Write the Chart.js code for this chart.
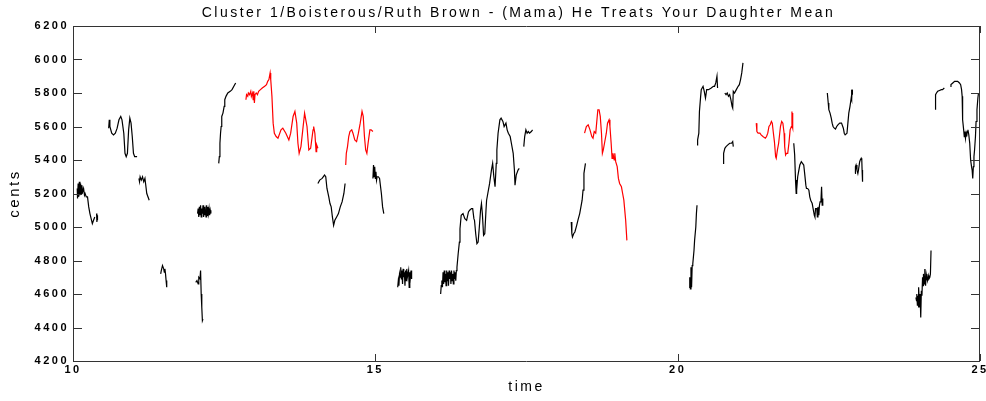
<!DOCTYPE html>
<html lang="en">
<head>
    <meta charset="UTF-8">
    <title>Cluster 1/Boisterous/Ruth Brown - (Mama) He Treats Your Daughter Mean</title>
    <script src="https://cdn.jsdelivr.net/npm/chart.js"></script>
    <style>
        html, body { margin: 0; padding: 0; background: #fff; }
        #wrap { width: 986px; height: 401px; }
    </style>
</head>
<body>
    <div id="wrap"><canvas id="pitch" width="986" height="401"></canvas></div>

    <script>
        const chartTitle = 'Cluster 1/Boisterous/Ruth Brown - (Mama) He Treats Your Daughter Mean';
        const xTicks = [10, 15, 20, 25];
        const yTicks = [4200, 4400, 4600, 4800, 5000, 5200, 5400, 5600, 5800, 6000, 6200];

        // pitch contour pieces, [time (s), cents]
        const segA = [[10.07,5230],[10.075,5170],[10.085,5260],[10.095,5180],[10.105,5270],[10.115,5190],[10.125,5260],[10.135,5200],[10.145,5250],[10.16,5210],[10.175,5230],[10.19,5190],[10.20,5200],[10.22,5180],[10.24,5180],[10.26,5120],[10.28,5080],[10.30,5050],[10.32,5020],[10.34,5040],[10.36,5060]];
        const segA2 = [[10.39,5080],[10.395,5030],[10.40,5070],[10.405,5040]];
        const segB = [[10.59,5590],[10.60,5640],[10.61,5600],[10.64,5560],[10.67,5550],[10.70,5560],[10.73,5590],[10.76,5640],[10.79,5660],[10.81,5640],[10.84,5560],[10.86,5440],[10.88,5420],[10.90,5440],[10.92,5580],[10.94,5650],[10.96,5620],[10.98,5540],[11.00,5440],[11.02,5420],[11.05,5420],[11.06,5420]];
        const segC = [[11.09,5290],[11.10,5270],[11.11,5300],[11.13,5280],[11.15,5300],[11.17,5270],[11.19,5290],[11.20,5260],[11.22,5200],[11.25,5170],[11.26,5160]];
        const segD = [[11.45,4720],[11.46,4740],[11.48,4770],[11.50,4750],[11.51,4730],[11.52,4750],[11.53,4720],[11.54,4680],[11.55,4640]];
        const segE = [[12.03,4670],[12.05,4680],[12.07,4660],[12.08,4700],[12.10,4690],[12.11,4740],[12.12,4600],[12.13,4520],[12.14,4440],[12.15,4450]];
        const segF = [[12.06,5080],[12.07,5110],[12.08,5060],[12.09,5120],[12.10,5070],[12.11,5130],[12.12,5060],[12.13,5110],[12.14,5080],[12.15,5130],[12.16,5060],[12.17,5120],[12.18,5070],[12.19,5100],[12.20,5060],[12.21,5130],[12.22,5070],[12.23,5120],[12.24,5080],[12.25,5110],[12.26,5070],[12.27,5100],[12.28,5080]];
        const segG = [[12.41,5380],[12.42,5420],[12.43,5500],[12.44,5560],[12.45,5600],[12.46,5660],[12.48,5680],[12.50,5720],[12.51,5760],[12.53,5780],[12.56,5800],[12.60,5810],[12.63,5820],[12.66,5840],[12.69,5860]];
        const segH = [[12.86,5760],[12.87,5790],[12.89,5780],[12.90,5800],[12.92,5790],[12.94,5810],[12.95,5780],[12.97,5800],[12.98,5760],[12.99,5810],[13.00,5740],[13.01,5790],[13.03,5800],[13.05,5790],[13.07,5810],[13.10,5820],[13.13,5830],[13.17,5840],[13.20,5850],[13.22,5870],[13.24,5880],[13.26,5920],[13.27,5880],[13.29,5780],[13.31,5620],[13.33,5560],[13.36,5540],[13.39,5530],[13.44,5580],[13.47,5590],[13.52,5560],[13.57,5520],[13.60,5560],[13.64,5660],[13.67,5690],[13.70,5620],[13.72,5500],[13.74,5440],[13.77,5480],[13.80,5580],[13.83,5680],[13.87,5600],[13.90,5460],[13.93,5470],[13.97,5580],[13.98,5600],[14.00,5560],[14.02,5450],[14.03,5490],[14.05,5470]];
        const segI = [[14.05,5260],[14.08,5280],[14.12,5290],[14.16,5310],[14.18,5300],[14.20,5230],[14.23,5180],[14.25,5140],[14.27,5120],[14.29,5060],[14.31,5010],[14.33,5040],[14.36,5060],[14.39,5080],[14.42,5120],[14.45,5150],[14.48,5200],[14.50,5260]];
        const segJ = [[14.51,5370],[14.52,5440],[14.54,5480],[14.56,5540],[14.58,5570],[14.61,5580],[14.63,5560],[14.66,5520],[14.69,5510],[14.72,5560],[14.75,5620],[14.78,5690],[14.80,5660],[14.82,5540],[14.84,5460],[14.86,5440],[14.88,5500],[14.91,5580],[14.93,5580],[14.96,5570]];
        const segK = [[14.96,5290],[14.97,5370],[14.98,5300],[14.99,5360],[15.00,5290],[15.01,5330],[15.02,5280],[15.03,5300],[15.05,5300],[15.07,5290],[15.08,5260],[15.10,5200],[15.12,5120],[15.14,5080]];
        const segL = [[15.37,4640],[15.38,4680],[15.39,4650],[15.40,4720],[15.41,4700],[15.42,4760],[15.43,4690],[15.44,4740],[15.45,4660],[15.46,4750],[15.47,4700],[15.48,4730],[15.49,4650],[15.50,4740],[15.51,4680],[15.52,4750],[15.53,4700],[15.55,4740],[15.56,4640],[15.57,4730],[15.58,4700],[15.59,4740],[15.60,4690]];
        const segM = [[16.08,4600],[16.09,4650],[16.10,4680],[16.11,4640],[16.12,4730],[16.13,4660],[16.14,4740],[16.15,4670],[16.16,4720],[16.17,4650],[16.18,4740],[16.19,4680],[16.20,4730],[16.21,4650],[16.22,4740],[16.23,4690],[16.24,4730],[16.25,4660],[16.26,4740],[16.27,4680],[16.28,4720],[16.29,4660],[16.30,4740],[16.31,4690],[16.32,4730],[16.33,4680],[16.34,4740],[16.35,4760],[16.37,4840],[16.39,4910],[16.40,4990],[16.42,5070],[16.45,5080],[16.48,5050],[16.51,5040],[16.54,5090],[16.56,5100],[16.59,5110],[16.61,5110],[16.63,5050],[16.64,5040],[16.66,4960],[16.68,4900],[16.70,4910],[16.72,5000],[16.74,5100],[16.755,5140],[16.77,5080],[16.79,4950],[16.81,4960],[16.83,5100],[16.84,5160],[16.86,5200],[16.89,5260],[16.92,5340],[16.94,5380],[16.96,5300],[16.98,5240],[17.00,5380],[17.01,5460],[17.03,5560],[17.06,5640],[17.08,5650],[17.11,5630],[17.13,5600],[17.16,5620],[17.18,5580],[17.20,5560],[17.23,5540],[17.25,5500],[17.28,5440],[17.30,5340],[17.31,5250],[17.33,5310],[17.36,5340],[17.38,5350]];
        const segN = [[17.455,5480],[17.47,5540],[17.49,5580],[17.51,5560],[17.53,5570],[17.55,5560],[17.58,5570],[17.60,5580]];
        const segO = [[18.24,5030],[18.25,4960],[18.26,4940],[18.28,4960],[18.30,4970],[18.33,5010],[18.35,5040],[18.38,5080],[18.40,5120],[18.42,5160],[18.435,5220],[18.45,5320],[18.475,5380]];
        const segP = [[18.46,5560],[18.49,5600],[18.52,5610],[18.55,5580],[18.58,5540],[18.60,5530],[18.62,5570],[18.645,5560],[18.66,5620],[18.68,5700],[18.70,5700],[18.72,5660],[18.74,5560],[18.755,5440],[18.77,5460],[18.79,5500],[18.82,5560],[18.84,5620],[18.865,5640],[18.88,5600],[18.90,5500],[18.915,5410],[18.93,5440],[18.95,5400],[18.96,5440],[18.975,5390],[19.00,5360],[19.02,5290],[19.04,5260],[19.07,5240],[19.09,5200],[19.11,5160],[19.12,5120],[19.14,5040],[19.16,4920]];
        const segQ = [[20.19,4640],[20.20,4700],[20.21,4630],[20.22,4760],[20.23,4640],[20.24,4770],[20.25,4780],[20.27,4860],[20.28,4920],[20.30,5000],[20.31,5080],[20.32,5130]];
        const segR = [[20.32,5490],[20.33,5520],[20.35,5560],[20.36,5690],[20.38,5780],[20.39,5820],[20.42,5840],[20.44,5810],[20.46,5770],[20.48,5820],[20.51,5820],[20.555,5830],[20.59,5840],[20.61,5840],[20.63,5860],[20.65,5900],[20.66,5830]];
        const segS = [[20.78,5800],[20.80,5790],[20.82,5800],[20.84,5780],[20.86,5790],[20.88,5760],[20.90,5720],[20.91,5710],[20.92,5810],[20.94,5800],[20.97,5820],[21.00,5840],[21.02,5850],[21.04,5880],[21.06,5920],[21.08,5980]];
        const segT = [[20.75,5380],[20.76,5440],[20.78,5470],[20.80,5480],[20.83,5490],[20.86,5500],[20.89,5500],[20.91,5510],[20.92,5480]];
        const segU = [[21.30,5620],[21.31,5570],[21.33,5560],[21.36,5560],[21.38,5550],[21.41,5540],[21.45,5530],[21.47,5540],[21.49,5560],[21.51,5600],[21.53,5610],[21.55,5630],[21.565,5620],[21.58,5570],[21.60,5510],[21.62,5420],[21.63,5410],[21.65,5460],[21.67,5500],[21.70,5600],[21.72,5630],[21.74,5620],[21.76,5560],[21.77,5480],[21.785,5430],[21.80,5440],[21.82,5440],[21.84,5500],[21.86,5580],[21.88,5600],[21.89,5690],[21.895,5600],[21.90,5680],[21.905,5590]];
        const segV = [[21.92,5500],[21.935,5430],[21.95,5270],[21.96,5200],[21.965,5280],[21.97,5220],[21.985,5300],[22.00,5330],[22.02,5370],[22.045,5390],[22.065,5380],[22.085,5370],[22.10,5320],[22.12,5250],[22.13,5230],[22.15,5230],[22.17,5220],[22.185,5180],[22.20,5160],[22.225,5140],[22.24,5110],[22.26,5070],[22.27,5060],[22.28,5110],[22.30,5110],[22.31,5060],[22.32,5120],[22.335,5070],[22.345,5130],[22.355,5150],[22.37,5160],[22.38,5240],[22.39,5130],[22.40,5170]];
        const segW = [[22.475,5800],[22.49,5740],[22.50,5700],[22.52,5680],[22.54,5650],[22.555,5620],[22.57,5600],[22.59,5590],[22.61,5585],[22.63,5600],[22.65,5610],[22.68,5620],[22.71,5620],[22.73,5600],[22.74,5590],[22.755,5560],[22.77,5550],[22.80,5560],[22.815,5620],[22.83,5680],[22.85,5720],[22.87,5770],[22.875,5820],[22.88,5760],[22.885,5820],[22.89,5790]];
        const segX = [[22.935,5320],[22.94,5360],[22.95,5370],[22.965,5340],[22.98,5320],[22.99,5340],[23.01,5390],[23.02,5400],[23.035,5410],[23.045,5400],[23.05,5340],[23.055,5300],[23.06,5270]];
        const segY = [[23.94,4580],[23.95,4560],[23.955,4600],[23.965,4530],[23.975,4590],[23.98,4520],[23.99,4640],[24.00,4520],[24.01,4600],[24.02,4460],[24.03,4620],[24.04,4590],[24.05,4700],[24.06,4650],[24.065,4720],[24.075,4660],[24.085,4750],[24.09,4700],[24.10,4650],[24.11,4720],[24.12,4700],[24.13,4680],[24.145,4710],[24.155,4690],[24.17,4700],[24.18,4720],[24.19,4860]];
        const segZ = [[24.265,5700],[24.265,5790],[24.28,5800],[24.30,5810],[24.33,5815],[24.36,5820],[24.38,5820],[24.41,5830]];
        const segAA = [[24.51,5840],[24.52,5850],[24.55,5860],[24.58,5870],[24.61,5870],[24.63,5870],[24.66,5860],[24.68,5850],[24.695,5820],[24.705,5780],[24.71,5700],[24.715,5640],[24.73,5580],[24.74,5540],[24.75,5570],[24.76,5530],[24.77,5560],[24.78,5540],[24.79,5570],[24.80,5580],[24.815,5550],[24.83,5500],[24.845,5400],[24.86,5360],[24.87,5340],[24.88,5290],[24.89,5360],[24.90,5420],[24.91,5460],[24.925,5540],[24.935,5630],[24.95,5700],[24.965,5770],[24.975,5800]];

        const blackSegments = [segA, segA2, segB, segC, segD, segE, segF, segG, segI, segK, segL, segM, segN, segO, segQ, segR, segS, segT, segV, segW, segX, segY, segZ, segAA];
        const redSegments = [segH, segJ, segP, segU];

        function toDataset(seg, color) {
            return {
                data: seg.map(([t, c]) => ({ x: t, y: c })),
                borderColor: color,
                borderWidth: 1.2,
                showLine: true,
                pointRadius: 0,
                tension: 0
            };
        }

        // box round the plot and inward tick marks on all four sides
        const framePlugin = {
            id: 'frame',
            afterLayout(chart) {
                // title is centred a little right of the canvas middle in the original
                chart.titleBlock.left = 51;
                chart.titleBlock.right = 986;
            },
            beforeDraw(chart) {
                chart.ctx.letterSpacing = '2.5px';
            },
            afterDatasetsDraw(chart) {
                const { ctx, chartArea: a, scales } = chart;
                ctx.save();
                ctx.strokeStyle = '#333';
                ctx.lineWidth = 1;
                ctx.beginPath();
                ctx.rect(a.left + 0.5, a.top + 0.5, a.right - a.left - 1, a.bottom - a.top);
                scales.y.ticks.forEach(t => {
                    const py = Math.round(scales.y.getPixelForValue(t.value)) + 0.5;
                    ctx.moveTo(a.left, py); ctx.lineTo(a.left + 9, py);
                    ctx.moveTo(a.right - 9, py); ctx.lineTo(a.right, py);
                });
                scales.x.ticks.forEach(t => {
                    const px = Math.round(scales.x.getPixelForValue(t.value)) + 0.5;
                    ctx.moveTo(px, a.bottom); ctx.lineTo(px, a.bottom - 7);
                    ctx.moveTo(px, a.top); ctx.lineTo(px, a.top + 7);
                });
                ctx.stroke();
                ctx.restore();
            }
        };

        const ctx = document.getElementById('pitch').getContext('2d');
        new Chart(ctx, {
            type: 'scatter',
            data: {
                datasets: [
                    ...blackSegments.map(s => toDataset(s, '#000000')),
                    ...redSegments.map(s => toDataset(s, '#ff0000'))
                ]
            },
            options: {
                responsive: false,
                animation: false,
                events: [],
                layout: { padding: { left: 0, right: 6, top: 0, bottom: 0 } },
                plugins: {
                    legend: { display: false },
                    tooltip: { enabled: false },
                    title: {
                        display: true,
                        text: chartTitle,
                        color: '#000',
                        font: { family: 'Liberation Sans', size: 14, weight: 'normal' },
                        padding: { top: 5, bottom: 4.2 }
                    }
                },
                scales: {
                    x: {
                        type: 'linear',
                        min: 10,
                        max: 25,
                        afterBuildTicks: s => { s.ticks = xTicks.map(v => ({ value: v })); },
                        afterFit: s => { s.height = 40; s.paddingLeft = 0; s.paddingRight = 0; },
                        grid: { display: false, drawTicks: false },
                        border: { display: false },
                        ticks: {
                            color: '#000',
                            padding: 2,
                            maxRotation: 0,
                            font: { family: 'Liberation Sans', size: 11, weight: 'bold' }
                        },
                        title: {
                            display: true,
                            text: 'time',
                            color: '#000',
                            font: { family: 'Liberation Sans', size: 14 },
                            padding: { top: 0, bottom: 5 }
                        }
                    },
                    y: {
                        min: 4200,
                        max: 6200,
                        afterBuildTicks: s => { s.ticks = yTicks.map(v => ({ value: v })); },
                        afterFit: s => { s.width = 73; s.paddingTop = 0; s.paddingBottom = 0; },
                        grid: { display: false, drawTicks: false },
                        border: { display: false },
                        ticks: {
                            color: '#000',
                            padding: 4,
                            font: { family: 'Liberation Sans', size: 11, weight: 'bold' },
                            callback: v => String(v)
                        },
                        title: {
                            display: true,
                            text: 'cents',
                            color: '#000',
                            font: { family: 'Liberation Sans', size: 15 },
                            padding: { top: 6, bottom: 0 }
                        }
                    }
                }
            },
            plugins: [framePlugin]
        });
    </script>
</body>
</html>
